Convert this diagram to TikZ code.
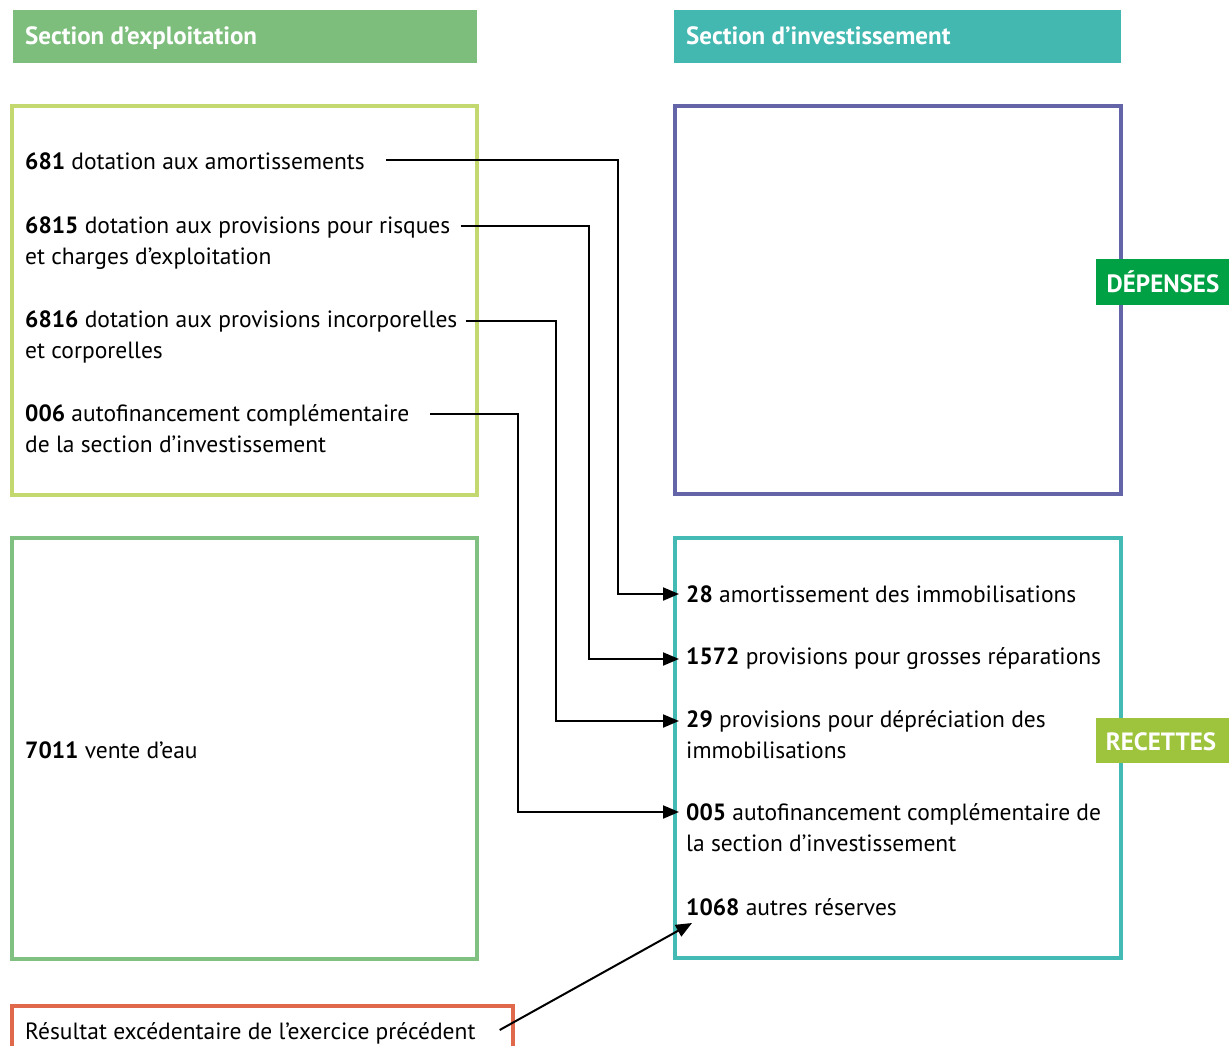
\documentclass[tikz,border=0pt]{standalone}
\usepackage{fontspec}
\setmainfont{PT Sans}
\usetikzlibrary{arrows.meta}
\definecolor{hdrA}{RGB}{125,190,125}
\definecolor{hdrB}{RGB}{66,184,177}
\definecolor{boxA}{RGB}{196,216,112}
\definecolor{boxB}{RGB}{128,192,128}
\definecolor{boxC}{RGB}{100,101,168}
\definecolor{boxD}{RGB}{68,186,181}
\definecolor{tagA}{RGB}{0,161,68}
\definecolor{tagB}{RGB}{157,196,60}
\definecolor{boxE}{RGB}{224,105,76}
\tikzset{
  txt/.style={anchor=base west, inner sep=0pt, font=\fontsize{23.5}{28}\selectfont},
  hdr/.style={anchor=base west, inner sep=0pt, text=white, font=\fontsize{25}{30}\selectfont\bfseries},
  frame/.style={line width=4pt},
  conn/.style={line width=2pt, -{Triangle[length=16pt,width=13pt]}},
}
\begin{document}
\begin{tikzpicture}[x=1pt,y=-1pt]
\useasboundingbox (0,0) rectangle (1229,1046);
\clip (0,0) rectangle (1229,1046);
% headers
\fill[hdrA] (13,10) rectangle (477,63);
\fill[hdrB] (674,10) rectangle (1121,63);
\node[hdr] (hA) at (25,45) {Section d’exploitation};
\node[hdr] (hB) at (686,45) {Section d’investissement};
% frames
\draw[frame, boxA] (12,106) rectangle (477,495);
\draw[frame, boxB] (12,538) rectangle (477,959);
\draw[frame, boxC] (675,106) rectangle (1121,494);
\draw[frame, boxD] (675,538) rectangle (1121,958);
\draw[frame, boxE] (12,1006) rectangle (513,1080);
% tags
\fill[tagA] (1096,259) rectangle (1229,305);
\node[hdr, anchor=base] (tD) at (1163,292) {DÉPENSES};
\fill[tagB] (1096,718) rectangle (1229,763);
\node[hdr, anchor=base] (tR) at (1161,750) {RECETTES};
% left texts
\node[txt] (l1) at (25,169) {\textbf{681} dotation aux amortissements};
\node[txt] (l2) at (25,233) {\textbf{6815} dotation aux provisions pour risques};
\node[txt] (l2b) at (25,264) {et charges d’exploitation};
\node[txt] (l3) at (25,327) {\textbf{6816} dotation aux provisions incorporelles};
\node[txt] (l3b) at (25,358) {et corporelles};
\node[txt] (l4) at (25,421) {\textbf{006} autofinancement complémentaire};
\node[txt] (l4b) at (25,452) {de la section d’investissement};
\node[txt] (l5) at (25,758) {\textbf{7011} vente d’eau};
% right texts
\node[txt] (r1) at (686,602) {\textbf{28} amortissement des immobilisations};
\node[txt] (r2) at (686,664) {\textbf{1572} provisions pour grosses réparations};
\node[txt] (r3) at (686,727) {\textbf{29} provisions pour dépréciation des};
\node[txt] (r3b) at (686,758) {immobilisations};
\node[txt] (r4) at (686,820) {\textbf{005} autofinancement complémentaire de};
\node[txt] (r4b) at (686,851) {la section d’investissement};
\node[txt] (r5) at (686,915) {\textbf{1068} autres réserves};
% bottom text
\node[txt] (b1) at (25,1039) {Résultat excédentaire de l’exercice précédent};
% connectors
\coordinate (s1) at ([xshift=21pt,yshift=9pt]l1.base east);
\coordinate (s2) at ([xshift=10pt,yshift=7pt]l2.base east);
\coordinate (s3) at ([xshift=8pt,yshift=6pt]l3.base east);
\coordinate (s4) at ([xshift=21pt,yshift=7pt]l4.base east);
\coordinate (e1) at ([xshift=-7pt,yshift=8pt]r1.base west);
\coordinate (e2) at ([xshift=-7pt,yshift=5pt]r2.base west);
\coordinate (e3) at ([xshift=-7pt,yshift=6pt]r3.base west);
\coordinate (e4) at ([xshift=-7pt,yshift=8pt]r4.base west);
\draw[conn] (s1) -| (618,594) -- (e1);
\draw[conn] (s2) -| (589,659) -- (e2);
\draw[conn] (s3) -| (556,721) -- (e3);
\draw[conn] (s4) -| (518,812) -- (e4);
\coordinate (s5) at ([xshift=24pt,yshift=9pt]b1.base east);
\coordinate (e5) at ([xshift=6pt,yshift=-8pt]r5.base west);
\draw[conn] (s5) -- (e5);
\end{tikzpicture}
\end{document}
